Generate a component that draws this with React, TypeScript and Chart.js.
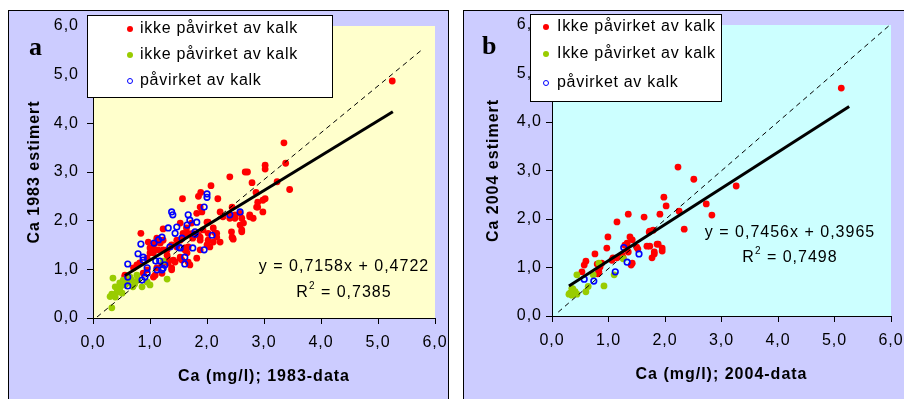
import React, { useEffect, useRef } from 'react';
import { Chart, registerables } from 'chart.js';

Chart.register(...registerables);

type Pt = [number, number];

// ---------- Panel a (1983) ----------
const redA: Pt[] = [
  [5.25, 4.87], [3.35, 3.6], [3.38, 3.18], [3.02, 3.14], [3.02, 3.06], [2.67, 3.0], [2.71, 3.0],
  [2.4, 2.9], [2.79, 2.78], [3.23, 2.8], [3.45, 2.64], [2.07, 2.72], [1.89, 2.58], [1.85, 2.5],
  [1.57, 2.45], [2.19, 2.45], [2.86, 2.58], [3.02, 2.45], [2.87, 2.28], [2.98, 2.18], [2.4, 2.12],
  [2.58, 2.15], [2.49, 2.05], [2.64, 1.95], [2.43, 1.77], [2.45, 1.64], [2.61, 1.81], [2.75, 2.08],
  [2.98, 2.42], [2.23, 2.18], [2.17, 1.74], [2.02, 1.6], [1.88, 1.6], [1.85, 1.7], [1.93, 1.81],
  [2.0, 1.97], [1.82, 2.15], [1.88, 2.28], [1.73, 1.95], [1.64, 1.85], [1.58, 1.74], [1.53, 1.6],
  [1.47, 1.46], [1.67, 1.46], [1.67, 1.15], [1.41, 1.19], [1.3, 1.29], [1.38, 0.99], [1.23, 1.4],
  [1.18, 1.54], [1.12, 1.64], [1.06, 1.44], [1.0, 1.34], [0.95, 1.23], [0.82, 1.13], [0.77, 1.09],
  [0.71, 1.03], [0.84, 1.74], [0.97, 1.56], [1.06, 0.84], [1.09, 0.88], [1.21, 1.09], [1.32, 1.13],
  [1.53, 1.23], [0.56, 0.86], [1.61, 1.4], [1.75, 1.74], [2.23, 1.56], [2.11, 1.85], [1.23, 1.83],
  [1.91, 2.18], [2.02, 1.97], [1.53, 1.95], [2.89, 2.38], [2.89, 2.28], [2.44, 2.28], [2.49, 2.12],
  [2.75, 2.12], [2.81, 2.05], [2.61, 2.05], [2.58, 1.91], [2.4, 2.05], [2.28, 2.08], [2.61, 1.77],
  [2.44, 1.66], [2.46, 1.62], [2.14, 1.75], [2.17, 1.66], [1.09, 1.54], [1.23, 1.6], [1.0, 1.44],
  [1.06, 1.34], [1.14, 1.4], [1.3, 1.4], [1.38, 1.5], [1.47, 1.6], [1.58, 1.66], [1.67, 1.74],
  [1.75, 1.64], [1.88, 1.66], [2.02, 1.74], [2.11, 1.56], [2.05, 1.46], [1.32, 1.19], [1.44, 1.15],
  [1.53, 1.25], [1.65, 1.34], [0.56, 0.88], [0.95, 0.99], [0.88, 0.92], [1.12, 1.03], [1.21, 0.92],
  [1.38, 1.03], [1.7, 1.09], [1.56, 1.19], [1.82, 1.23], [1.61, 1.44], [1.88, 1.4], [2.0, 1.5],
];
const greenA: Pt[] = [
  [0.35, 0.82], [0.33, 0.21], [0.39, 0.43], [0.33, 0.49], [0.3, 0.44], [0.42, 0.53], [0.47, 0.61],
  [0.56, 0.68], [0.68, 0.78], [0.77, 0.88], [0.86, 0.64], [1.0, 0.68], [0.7, 0.64], [1.3, 0.8],
  [1.23, 1.17], [0.47, 0.72], [0.39, 0.64], [0.51, 0.51], [0.53, 0.78], [0.65, 0.84], [0.79, 0.78],
  [0.95, 0.74], [0.37, 0.47], [0.44, 0.56], [0.6, 0.72], [0.73, 0.7],
];
const blueA: Pt[] = [
  [2.0, 2.55], [2.0, 2.48], [0.61, 1.11], [0.61, 0.84], [0.61, 0.66], [0.79, 1.32], [0.84, 1.52],
  [0.88, 1.25], [0.88, 1.19], [0.95, 1.03], [0.95, 0.92], [0.91, 0.84], [0.86, 0.78], [1.07, 1.54],
  [1.1, 1.17], [1.12, 0.99], [1.21, 1.66], [1.21, 0.99], [1.26, 1.09], [1.32, 1.85], [1.35, 1.46],
  [1.38, 2.18], [1.4, 2.12], [1.44, 1.74], [1.47, 1.87], [1.53, 1.44], [1.56, 1.64], [1.61, 1.25],
  [1.61, 1.11], [1.65, 1.91], [1.67, 2.12], [1.7, 2.01], [1.75, 1.44], [1.79, 1.77], [1.82, 1.97],
  [1.95, 1.4], [1.95, 2.28], [2.09, 1.7], [2.4, 2.12], [2.58, 2.18], [1.17, 1.17], [1.23, 1.02],
  [1.15, 1.61], [1.51, 1.45], [1.79, 1.72],
];
const trendA: Pt[] = [[0.56, 0.873], [5.26, 4.237]];
const diagA: Pt[] = [[0.07, 0.02], [5.79, 5.53]];

// ---------- Panel b (2004) ----------
const redB: Pt[] = [
  [5.12, 4.7], [2.23, 3.07], [2.51, 2.82], [3.26, 2.68], [1.98, 2.45], [2.02, 2.27], [1.91, 2.1],
  [2.25, 2.16], [2.34, 1.79], [1.35, 2.1], [1.15, 1.94], [1.63, 2.04], [0.99, 1.63], [1.38, 1.63],
  [1.73, 1.75], [1.79, 1.77], [2.83, 2.08], [2.73, 2.31], [1.86, 1.48], [1.95, 1.4], [1.95, 1.34],
  [1.81, 1.32], [1.81, 1.28], [1.77, 1.2], [1.73, 1.44], [1.68, 1.44], [1.72, 1.73], [0.97, 1.4],
  [1.42, 1.57], [1.5, 1.42], [1.52, 1.38], [1.33, 1.5], [1.29, 1.46], [1.35, 1.32], [1.4, 1.05],
  [1.26, 1.2], [1.15, 1.2], [1.06, 1.15], [0.88, 1.09], [0.8, 1.07], [0.76, 1.28], [0.6, 1.13],
  [0.57, 1.05], [0.53, 0.91], [0.83, 0.91], [0.85, 1.01], [0.81, 0.87], [1.42, 1.09], [1.08, 1.2],
  [1.24, 1.26], [1.88, 1.48],
];
const greenB: Pt[] = [
  [1.1, 0.85], [1.26, 1.18], [0.92, 0.62], [0.6, 0.5], [0.44, 0.85], [0.37, 0.56], [0.34, 0.48],
  [0.3, 0.45], [0.35, 0.43], [0.44, 0.45], [0.73, 0.85], [0.83, 1.09], [0.64, 0.61], [0.41, 0.5],
  [0.32, 0.47], [0.35, 0.57],
];
const blueB: Pt[] = [
  [1.27, 1.41], [1.54, 1.28], [1.33, 1.11], [1.12, 0.91], [0.57, 0.76], [0.74, 0.72],
];
const trendB: Pt[] = [[0.3, 0.62], [5.26, 4.318]];
const diagB: Pt[] = [[0.11, 0.08], [5.98, 6.0]];

// ---------- Text ----------
const axisMin = 0;
const axisMax = 6;
const axisStep = 1;
const titleXA = 'Ca (mg/l); 1983-data';
const titleYA = 'Ca 1983 estimert';
const titleXB = 'Ca (mg/l); 2004-data';
const titleYB = 'Ca 2004 estimert';
const legendA = ['ikke påvirket av kalk', 'ikke påvirket av kalk', 'påvirket av kalk'];
const legendB = ['Ikke påvirket av kalk', 'Ikke påvirket av kalk', 'påvirket av kalk'];
const eqA = ['y = 0,7158x + 0,4722', '0,7385'];
const eqB = ['y = 0,7456x + 0,3965', '0,7498'];

const RED = '#FF0000';
const GREEN = '#99CC00';
const BLUE = '#0000FF';
const LAV = '#CCCCFF';
const FONT = '"Liberation Sans", Arial, sans-serif';

const fmt = (v: number) => v.toFixed(1).replace('.', ',');
const toXY = (a: Pt[]) => a.map(([x, y]) => ({ x, y }));

const areaPlugin = {
  id: 'areaBg',
  beforeDraw(chart: any, _args: any, opts: any) {
    const { ctx, chartArea } = chart;
    ctx.save();
    ctx.fillStyle = opts.color;
    ctx.fillRect(chartArea.left, chartArea.top, chartArea.right - chartArea.left, chartArea.bottom - chartArea.top);
    ctx.restore();
    (ctx as any).letterSpacing = '1px';
  },
};

interface Spec {
  red: Pt[]; green: Pt[]; blue: Pt[]; trend: Pt[]; diag: Pt[];
  bg: string; xTitle: string; yTitle: string;
  width: number; height: number;
  padTop: number; padRight: number; yWidth: number; xHeight: number;
  yTitlePad: number; xTitlePad: number; yTickPad: number; xTickPad: number;
}

function ChartPanel({ spec, left, top }: { spec: Spec; left: number; top: number }) {
  const ref = useRef<HTMLCanvasElement | null>(null);
  useEffect(() => {
    if (!ref.current) return;
    const s = spec;
    const axisCommon = (title: string, isX: boolean) => ({
      type: 'linear',
      min: axisMin,
      max: axisMax,
      ticks: {
        stepSize: axisStep,
        color: '#000',
        font: { family: FONT, size: 16 },
        padding: isX ? s.xTickPad : s.yTickPad,
        callback: (v: any) => fmt(Number(v)),
      },
      grid: { display: true, drawOnChartArea: false, drawTicks: true, tickLength: 6, color: '#000', lineWidth: 1 },
      border: { display: true, color: '#000', width: 1 },
      title: {
        display: true,
        text: title,
        color: '#000',
        font: { family: FONT, size: 16, weight: 'bold' },
        padding: isX ? { top: 0, bottom: s.xTitlePad } : { top: s.yTitlePad, bottom: 0 },
      },
      afterFit: (sc: any) => {
        if (isX) {
          sc.height = s.xHeight;
          sc.paddingLeft = 0;
          sc.paddingRight = 0;
        } else {
          sc.width = s.yWidth;
          sc.paddingTop = 0;
          sc.paddingBottom = 0;
        }
      },
    });
    const chart = new Chart(ref.current, {
      type: 'scatter',
      data: {
        datasets: [
          { label: 'diag', data: toXY(s.diag), showLine: true, borderColor: '#000', borderWidth: 1, borderDash: [5, 4], pointRadius: 0, order: 0 },
          { label: 'trend', data: toXY(s.trend), showLine: true, borderColor: '#000', borderWidth: 3, pointRadius: 0, order: 1 },
          { label: 'blue', data: toXY(s.blue), pointRadius: 2.8, borderColor: BLUE, borderWidth: 1.6, backgroundColor: 'rgba(0,0,0,0)', order: 2 },
          { label: 'green', data: toXY(s.green), pointRadius: 3.4, borderWidth: 0, backgroundColor: GREEN, order: 3 },
          { label: 'red', data: toXY(s.red), pointRadius: 3.4, borderWidth: 0, backgroundColor: RED, order: 4 },
        ],
      } as any,
      options: {
        responsive: false,
        animation: false,
        devicePixelRatio: 1,
        layout: { padding: { left: 0, top: s.padTop, right: s.padRight, bottom: 0 } },
        plugins: {
          legend: { display: false },
          tooltip: { enabled: false },
          areaBg: { color: s.bg },
        } as any,
        scales: {
          x: axisCommon(s.xTitle, true),
          y: axisCommon(s.yTitle, false),
        } as any,
      },
      plugins: [areaPlugin],
    });
    return () => chart.destroy();
  }, [spec]);
  return (
    <canvas
      ref={ref}
      width={spec.width}
      height={spec.height}
      style={{ position: 'absolute', left, top, width: spec.width, height: spec.height }}
    />
  );
}

const specA: Spec = {
  red: redA, green: greenA, blue: blueA, trend: trendA, diag: diagA,
  bg: '#FFFFCC', xTitle: titleXA, yTitle: titleYA,
  width: 439, height: 388, padTop: 15, padRight: 13, yWidth: 84, xHeight: 81,
  yTitlePad: 16, xTitlePad: 13, yTickPad: 8, xTickPad: 9,
};
const specB: Spec = {
  red: redB, green: greenB, blue: blueB, trend: trendB, diag: diagB,
  bg: '#CCFFFF', xTitle: titleXB, yTitle: titleYB,
  width: 440, height: 388, padTop: 14, padRight: 13, yWidth: 88, xHeight: 83,
  yTitlePad: 20, xTitlePad: 15, yTickPad: 4, xTickPad: 9,
};

function Marker({ kind, x, y }: { kind: number; x: number; y: number }) {
  const base: React.CSSProperties = { position: 'absolute', left: x - 3, top: y - 3, width: 6, height: 6, borderRadius: '50%', boxSizing: 'border-box' };
  if (kind === 0) return <div style={{ ...base, background: RED }} />;
  if (kind === 1) return <div style={{ ...base, background: GREEN }} />;
  return <div style={{ ...base, border: `1.5px solid ${BLUE}` }} />;
}

function Legend({ box, rows, markerX, textX, labels }: { box: [number, number, number, number]; rows: number[]; markerX: number; textX: number; labels: string[] }) {
  const [l, t, w, h] = box;
  return (
    <>
      <div style={{ position: 'absolute', left: l, top: t, width: w, height: h, boxSizing: 'border-box', border: '1px solid #000', background: '#fff' }} />
      {labels.map((lab, i) => (
        <React.Fragment key={i}>
          <Marker kind={i} x={markerX} y={rows[i]} />
          <div style={{ position: 'absolute', left: textX, top: rows[i] - 11, lineHeight: '20px', fontSize: 16, letterSpacing: '0.7px', whiteSpace: 'nowrap', color: '#000' }}>{lab}</div>
        </React.Fragment>
      ))}
    </>
  );
}

function Equation({ cx, y1, y2, lines }: { cx: number; y1: number; y2: number; lines: string[] }) {
  const st: React.CSSProperties = { position: 'absolute', left: cx - 150, width: 300, textAlign: 'center', lineHeight: '20px', fontSize: 16, letterSpacing: '1px', whiteSpace: 'nowrap', color: '#000' };
  return (
    <>
      <div style={{ ...st, top: y1 - 10 }}>{lines[0]}</div>
      <div style={{ ...st, top: y2 - 10 }}>R<sup style={{ fontSize: 10, verticalAlign: 'top', lineHeight: '10px', position: 'relative', top: -1 }}>2</sup> = {lines[1]}</div>
    </>
  );
}

export default function App() {
  return (
    <div style={{ position: 'fixed', left: 0, top: 0, width: 904, height: 399, overflow: 'hidden', background: '#fff', fontFamily: FONT }}>
      <div style={{ position: 'absolute', left: 8, top: 10, width: 441, height: 400, boxSizing: 'border-box', border: '1px solid #000', background: LAV }} />
      <div style={{ position: 'absolute', left: 463, top: 10, width: 460, height: 400, boxSizing: 'border-box', border: '1px solid #000', background: LAV }} />
      <ChartPanel spec={specA} left={9} top={11} />
      <ChartPanel spec={specB} left={464} top={11} />
      <div style={{ position: 'absolute', left: 29, top: 34, fontFamily: '"Liberation Serif", "Times New Roman", serif', fontWeight: 'bold', fontSize: 26, lineHeight: '26px' }}>a</div>
      <div style={{ position: 'absolute', left: 482, top: 33, fontFamily: '"Liberation Serif", "Times New Roman", serif', fontWeight: 'bold', fontSize: 26, lineHeight: '26px' }}>b</div>
      <Legend box={[87, 15, 246, 83]} rows={[29, 55, 81]} markerX={130} textX={140} labels={legendA} />
      <Legend box={[530, 14, 192, 88]} rows={[27, 54, 83]} markerX={546} textX={557} labels={legendB} />
      <Equation cx={344} y1={266} y2={292} lines={eqA} />
      <Equation cx={790} y1={232} y2={257} lines={eqB} />
    </div>
  );
}
